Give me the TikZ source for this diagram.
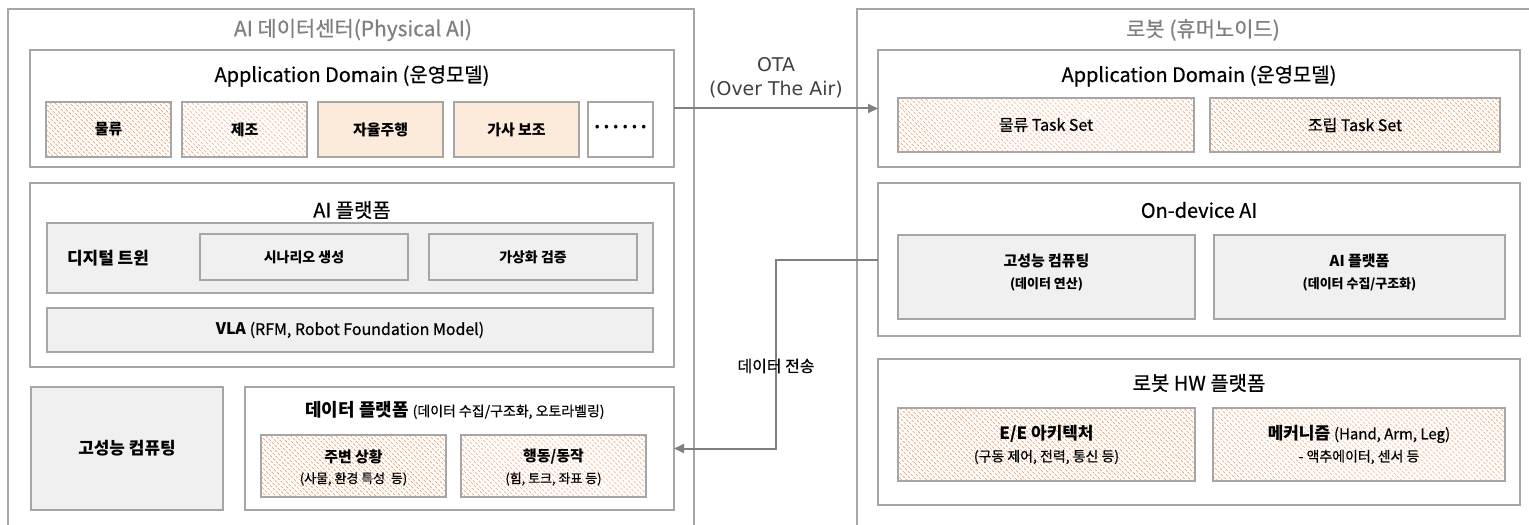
\documentclass[tikz,border=0pt]{standalone}
\usepackage{fontspec}
\setmainfont{Noto Sans CJK KR}[UprightFeatures={FakeBold=0.6}]
\newfontfamily\dejavu{DejaVu Sans}
\usetikzlibrary{arrows.meta,patterns.meta}
\definecolor{linegray}{HTML}{A6A6A6}
\definecolor{boxgray}{HTML}{F0F0F0}
\definecolor{peachc}{HTML}{FCEADB}
\definecolor{hatchc}{HTML}{F3AE7E}
\definecolor{titlegray}{HTML}{808080}
\definecolor{arrowgray}{HTML}{808080}
\definecolor{otagray}{HTML}{404040}
\tikzset{
  every node/.style={inner sep=0pt, outer sep=0pt},
  frame/.style={draw=linegray, line width=1.8bp},
  box/.style={draw=linegray, line width=1.8bp, anchor=north west},
  grayfill/.style={box, fill=boxgray},
  peachbox/.style={box, fill=peachc},
  hatchbox/.style={box, pattern={Lines[angle=-45,distance=3.6bp,line width=1.1bp]}, pattern color=hatchc},
  conn/.style={draw=arrowgray, line width=2bp, -{Triangle[length=10bp,width=9bp]}},
  ttl/.style={font=\fontsize{21}{25}\selectfont, text=titlegray},
  t20/.style={font=\fontsize{20}{24}\selectfont},
  fbA/.style={font=\fontsize{17}{20}\selectfont\bfseries},
  fbB/.style={font=\fontsize{15}{18}\selectfont\bfseries},
  fbC/.style={font=\fontsize{14}{17}\selectfont\bfseries},
  fbD/.style={font=\fontsize{13}{16}\selectfont\bfseries},
  frA/.style={font=\fontsize{15}{18}\selectfont},
  frB/.style={font=\fontsize{14}{17}\selectfont},
  frC/.style={font=\fontsize{13}{16}\selectfont},
  otat/.style={font=\dejavu\fontsize{19}{22}\selectfont, text=otagray},
}
\begin{document}
\begin{tikzpicture}[x=1bp, y=-1bp]
\useasboundingbox (0,0) rectangle (1529,525);

% outer frames
\draw[frame] (8,527) -- (8,9) -- (694,9) -- (694,527);
\draw[frame] (857,527) -- (857,9) -- (1531,9);
\node[ttl] (ltitle) at (353,30) {AI 데이터센터(Physical AI)};
\node[ttl] (rtitle) at (1203,30) {로봇 (휴머노이드)};

% ---------- left: application domain
\node[box, minimum width=644bp, minimum height=117bp] (lapp) at (30,50) {};
\node[t20] (lapptitle) at (352,76) {Application Domain (운영모델)};
\node[hatchbox, fbB, minimum width=125bp, minimum height=55bp] (d1) at (46,102) {물류};
\node[hatchbox, fbB, minimum width=125bp, minimum height=55bp] (d2) at (182,102) {제조};
\node[peachbox, fbB, minimum width=125bp, minimum height=55bp] (d3) at (318,102) {자율주행};
\node[peachbox, fbB, minimum width=125bp, minimum height=55bp] (d4) at (454,102) {가사 보조};
\node[box, font=\fontsize{17}{20}\selectfont\bfseries, minimum width=65bp, minimum height=55bp] (d5) at (588,102) {·\kern-1pt·\kern-1pt·\kern-1pt·\kern-1pt·\kern-1pt·};

% ---------- left: AI platform
\node[box, minimum width=644bp, minimum height=184bp] (laip) at (30,183) {};
\node[t20] (laiptitle) at (352,210) {AI 플랫폼};
\node[grayfill, minimum width=606bp, minimum height=70bp] (dt) at (47,223) {};
\node[fbA] (dtlabel) at (108,258) {디지털 트윈};
\node[grayfill, fbC, minimum width=208bp, minimum height=46bp] (scen) at (200,234) {시나리오 생성};
\node[grayfill, fbC, minimum width=208bp, minimum height=46bp] (virt) at (429,234) {가상화 검증};
\node[grayfill, font=\fontsize{16}{19}\selectfont, minimum width=606bp, minimum height=44bp] (vla) at (47,308) {\textbf{VLA} (RFM, Robot Foundation Model)};

% ---------- left: bottom
\node[grayfill, fbA, minimum width=192bp, minimum height=123bp] (lhpc) at (31,387) {고성능 컴퓨팅};
\node[box, minimum width=429bp, minimum height=123bp] (dp) at (245,387) {};
\node (dptitle) at (455,410) {\fontsize{18}{21}\selectfont\bfseries 데이터 플랫폼 \fontsize{14}{17}\selectfont\mdseries(데이터 수집/구조화, 오토라벨링)};
\node[hatchbox, minimum width=185bp, minimum height=62bp] (env) at (261,435) {};
\node[fbB] (envt1) at (353.5,457) {주변 상황};
\node[frC] (envt2) at (353.5,479) {(사물, 환경 특성\ \ 등)};
\node[hatchbox, minimum width=185bp, minimum height=62bp] (act) at (461,435) {};
\node[fbB] (actt1) at (553.5,457) {행동/동작};
\node[frC] (actt2) at (553.5,479) {(힘, 토크, 좌표 등)};

% ---------- right: application domain
\node[box, minimum width=642bp, minimum height=117bp] (rapp) at (878,50) {};
\node[t20] (rapptitle) at (1199,76) {Application Domain (운영모델)};
\node[hatchbox, font=\fontsize{16}{19}\selectfont, minimum width=296bp, minimum height=54bp] (ts1) at (898,98) {물류 Task Set};
\node[hatchbox, font=\fontsize{16}{19}\selectfont, minimum width=290bp, minimum height=54bp] (ts2) at (1210,98) {조립 Task Set};

% ---------- right: on-device AI
\node[box, minimum width=642bp, minimum height=153bp] (ond) at (878,183) {};
\node[t20] (ondtitle) at (1199,210) {On-device AI};
\node[grayfill, minimum width=297bp, minimum height=84bp] (rhpc) at (898,235) {};
\node[fbB] (rhpc1) at (1046.5,261) {고성능 컴퓨팅};
\node[fbD] (rhpc2) at (1046.5,284) {(데이터 연산)};
\node[grayfill, minimum width=291bp, minimum height=84bp] (raip) at (1214,235) {};
\node[fbB] (raip1) at (1359.5,261) {AI 플랫폼};
\node[fbD] (raip2) at (1359.5,284) {(데이터 수집/구조화)};

% ---------- right: robot HW
\node[box, minimum width=642bp, minimum height=146bp] (hw) at (878,359) {};
\node[t20] (hwtitle) at (1199,383) {로봇 HW 플랫폼};
\node[hatchbox, minimum width=297bp, minimum height=73bp] (ee) at (898,408) {};
\node[fbA] (ee1) at (1046.5,434) {E/E 아키텍처};
\node[frB] (ee2) at (1046.5,457) {(구동 제어, 전력, 통신 등)};
\node[hatchbox, minimum width=292bp, minimum height=73bp] (mech) at (1213,408) {};
\node (mech1) at (1359,434) {\fontsize{17}{20}\selectfont\bfseries 메커니즘 \fontsize{15}{18}\selectfont\mdseries(Hand, Arm, Leg)};
\node[frB] (mech2) at (1359,457) {- 액추에이터, 센서 등};

% ---------- connectors
\draw[conn] (lapp.east) -- (rapp.west);
\node[otat] (ota1) at (776,65) {OTA};
\node[otat] (ota2) at (776,90) {(Over The Air)};
\coordinate (bendx) at (776,0);
\draw[conn] (ond.west) -- (ond.west -| bendx) |- (dp.east);
\node[font=\fontsize{16}{19}\selectfont] (dtlab) at (776,366) {데이터 전송};
\end{tikzpicture}
\end{document}
